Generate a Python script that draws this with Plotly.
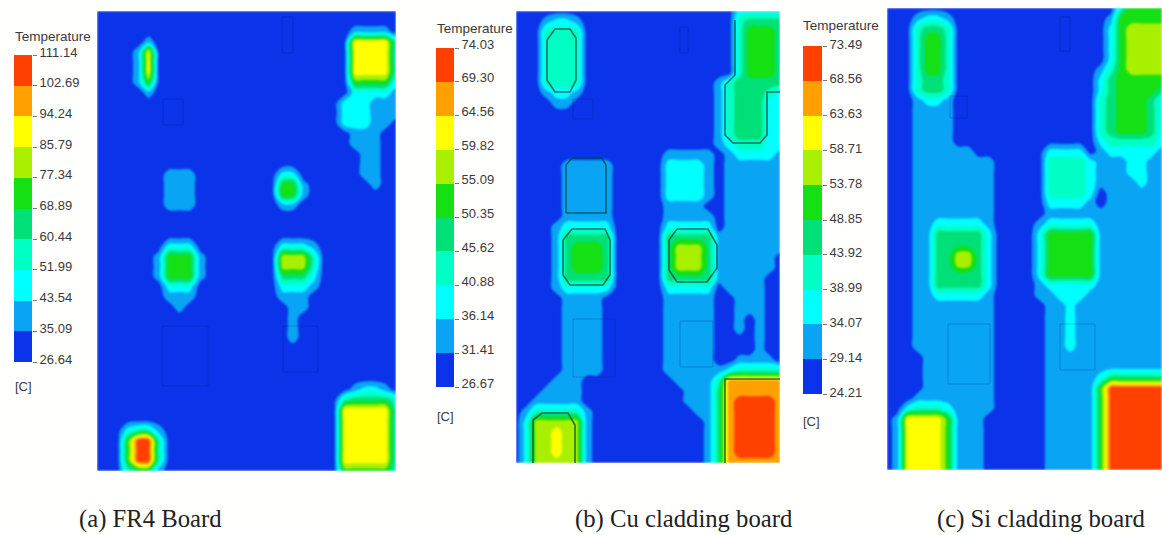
import numpy as np
import plotly.graph_objects as go

WIDTH, HEIGHT = 1162, 535

band_colors = ["#0a33ea", "#0aa4f5", "#00ffff", "#00ffc4", "#00e078",
               "#14e014", "#a8f000", "#ffff00", "#ffa000", "#ff4000"]

ticks_a = ["26.64", "35.09", "43.54", "51.99", "60.44", "68.89", "77.34", "85.79", "94.24", "102.69", "111.14"]
ticks_b = ["26.67", "31.41", "36.14", "40.88", "45.62", "50.35", "55.09", "59.82", "64.56", "69.30", "74.03"]
ticks_c = ["24.21", "29.14", "34.07", "38.99", "43.92", "48.85", "53.78", "58.71", "63.63", "68.56", "73.49"]

captions = ["(a) FR4 Board", "(b) Cu cladding board", "(c) Si cladding board"]

# Temperature band read per grid node (0 = coolest band ... 9 = hottest band)
bands_a = [
"0000000000 0000000000 0000000000",
"0000000000 0000000000 0000000000",
"0000000000 0000000000 0000 0 1111 0",
"00000 1 0000000000 00000000 0 7777 3",
"0000 1 7 0000000000 00000000 0 7777 3",
"0000 1 7 0000000000 00000000 0 7777 3",
"0000 1 7 0000000000 00000000 0 7777 3",
"0000 1 5 0000000000 00000000 0 5555 2",
"00000 1 0000000000 00000000 0 2222 1",
"000000 0000000000 00000000 222111",
"000000 0000000000 00000000 222111",
"000000 0000000000 00000000 222110",
"000000 0000000000 00000000 011100",
"000000 0000000000 00000000 011100",
"000000 0000000000 00000000 001100",
"000000 0000000000 00000000 001100",
"0000000 111 00000000 22 0 00000 11 00",
"0000000 111 00000000 55 1 00000 0 1 00",
"0000000 111 00000000 55 1 000000000",
"0000000 111 00000000 11 0 000000000",
"0000000000 0000000000 0000000000",
"0000000000 0000000000 0000000000",
"0000000000 0000000000 0000000000",
"0000000 222 00000000 222 1 00000000",
"000000 1 555 1 0000000 666 3 00000000",
"000000 1 555 1 0000000 666 3 00000000",
"000000 1 555 1 0000000 444 2 00000000",
"0000000 222 00000000 222 1 00000000",
"0000000 111 00000000 111 000000000",
"00000000 1 0000000000 11 000000000",
"0000000000 000000000 1 0000000000",
"0000000000 000000000 1 0000000000",
"0000000000 000000000 1 0000000000",
"0000000000 0000000000 0000000000",
"0000000000 0000000000 0000000000",
"0000000000 0000000000 0000000000",
"0000000000 0000000000 0000000000",
"0000000000 0000000000 0000 0 1221 0",
"0000000000 0000000000 000 0 3 4444 3",
"0000000000 0000000000 000 0 77777 3",
"0000000000 0000000000 000 0 77777 3",
"000 2 33 1 0000000000 000000 0 77777 3",
"000 5 99 3 0000000000 000000 0 77777 3",
"000 5 99 3 0000000000 000000 0 77777 3",
"000 5 99 3 0000000000 000000 0 77777 3",
"000 3 44 1 0000000000 000000 0 55555 3",
]

bands_b = [
"0000000000 0000000000 00 22222",
"000 1221 0000000000 00000 3 4444",
"000 3333 0000000000 00000 3 555 4",
"000 3333 0000000000 00000 3 555 4",
"000 3333 0000000000 00000 3 555 4",
"000 3333 0000000000 00000 3 555 4",
"000 3333 0000000000 00000 3 555 4",
"000 3333 0000000000 000 1 3 4 444 4",
"000 1221 0000000000 000 1 3 444 3 2",
"0000 11 0000000000 0000 1 3 444 2 2",
"0000000000 0000000000 1 3 444 2 2",
"0000000000 0000000000 1 3 444 2 2",
"0000000000 0000000000 1 3 444 2 2",
"0000000000 0000000000 1 2 333 2 2",
"0000000000 00000 11111 0 1 2222 1",
"00000 11111 00000 2222 1 0 111111",
"00000 11111 00000 2222 1 0 111111",
"00000 11111 00000 2222 1 0 111111",
"00000 11111 00000 2222 1 0 111111",
"00000 11111 00000 1111 0 0 111111",
"00000 11111 00000 11111 0 111111",
"0000 1 22222 00000 22222 0 111111",
"0000 1 44444 00000 44444 1 111111",
"0000 1 4 555 4 00000 4 666 4 1 111111",
"0000 1 4 555 4 00000 4 666 4 1 111110",
"0000 1 4 555 4 00000 4 666 4 1 111110",
"0000 1 44444 00000 44444 1 111100",
"0000 1 22222 00000 22222 0 1111 00",
"00000 1111 000000 11111 00 111 00",
"00000 1111 000000 11111 00 111 00",
"00000 1111 000000 11111 00 1 0 1 00",
"00000 1111 000000 11111 00 1 0 1 00",
"00000 1111 000000 11111 0000 1 00",
"00000 1111 000000 11111 0000 1 00",
"00000 1111 000000 11111 00 111 1 0",
"00000 1111 000000 111111 2 33333",
"0000 111 000000000 1111 3 888888",
"000 1111 0000000000 111 4 888888",
"00 11111 0000000000 111 4 8 9999 8",
"0 1 33333 1 0000000000 11 4 8 9999 8",
"0 2 66666 1 00000000000 1 4 8 9999 8",
"0 2 66 7 66 1 00000000000 1 4 8 9999 8",
"0 2 66 7 66 1 00000000000 1 4 8 9999 8",
"0 2 66 7 66 1 00000000000 1 4 8 9999 8",
"0 2 66666 1 00000000000 1 4 888888",
]

bands_c = [
"0000000000 0000000000 000 3 5555",
"000 1221 0000000000 00000 1 55555",
"000 3443 0000000000 00000 2 5 6666",
"000 3553 0000000000 00000 2 5 6666",
"000 3553 0000000000 00000 2 5 6666",
"000 3553 0000000000 00000 2 5 6666",
"000 3553 0000000000 0000 1 3 5 6666",
"000 3443 0000000000 0000 2 4 5 5555",
"000 3443 0000000000 0000 2 4 5555 4",
"000 1221 0000000000 0000 3 4 555 4 2",
"000 1111 0000000000 0000 3 4 555 4 2",
"000 1111 0000000000 0000 3 4 555 4 2",
"000 1111 0000000000 0000 3 4 555 4 2",
"000 1111 0000000000 0000 2 33333 2",
"000 111111 0000000 2222 0 1 22222 1",
"000 11111111 00000 3333 2 111 22 11",
"000 11111111 00000 3333 2 111 22 11",
"000 11111111 00000 3333 2 1111 2 11",
"000 11111111 00000 3333 2 0 111111",
"000 11111111 00000 2222 1 0 111111",
"000 11111111 00000 111111111111",
"000 11 22222 1 0000 1 22222 1111111",
"000 11 44444 2 0000 2 55555 1111111",
"000 11 44444 2 0000 2 55555 1111111",
"000 11 44 66 4 2 0000 2 55555 1111111",
"000 11 44 66 4 2 0000 2 55555 1111111",
"000 11 44444 2 0000 2 55555 1111111",
"000 11 44444 2 0000 1 22222 1111111",
"000 11 22222 1 0000 1 1 222 1 1111111",
"000 11111111 00000 11 2 111111111",
"000 11111111 00000 11 2 111111111",
"000 11111111 00000 11 2 111111111",
"000 11111111 00000 11 2 111111111",
"000 11111111 00000 11 2 111111111",
"0000 1111111 00000 111111111111",
"0000 1111111 00000 111111111111",
"0000 1111111 00000 11111 2 444444",
"0000 1111111 00000 11111 5 999999",
"000 11111111 00000 11111 5 999999",
"00 2 333 2 1111 00000 11111 5 999999",
"0 1 7777 5 111 000000 11111 5 999999",
"0 1 7777 5 111 000000 11111 5 999999",
"0 1 7777 5 111 000000 11111 5 999999",
"0 1 7777 5 111 000000 11111 5 999999",
"0 1 7777 5 111 000000 11111 5 999999",
"0 1 7777 5 111 000000 11111 5 999999",
]

# Faint component footprints: left, top, right, bottom
footprints_a = [[162, 326, 208, 386], [283, 326, 318, 372], [282, 17, 293, 53], [163, 99, 183, 125]]
footprints_b = [[573, 319, 615, 377], [680, 321, 713, 367], [680, 27, 688, 53], [573, 99, 593, 119]]
footprints_c = [[948, 324, 990, 384], [1060, 324, 1095, 370], [1060, 17, 1070, 51], [950, 96, 967, 118]]

# Dark contour traces around the hot parts of the Cu board
outline_b_x = [
    [547, 555, 570, 576, 576, 570, 555, 547, 547],
    [566, 566, 572, 602, 606, 606, 566],
    [563, 572, 605, 610, 610, 603, 570, 563, 563],
    [669, 677, 708, 717, 717, 707, 677, 669, 669],
    [533, 533, 542, 568, 575, 575],
    [725, 725, 780],
    [780, 767, 767, 760, 733, 725, 725, 735, 735],
]
outline_b_y = [
    [40, 29, 29, 38, 80, 92, 92, 80, 40],
    [213, 165, 158, 158, 165, 213, 213],
    [240, 229, 229, 240, 275, 285, 285, 275, 240],
    [240, 229, 229, 245, 268, 282, 282, 270, 240],
    [463, 420, 413, 413, 425, 463],
    [463, 379, 379],
    [92, 92, 135, 143, 143, 135, 85, 75, 20],
]

panels = [
    dict(bands=bands_a, ticks=ticks_a, box=(97, 396, 11, 471), bar=(14, 32, 55, 362), shift=3,
         foot=footprints_a, title=(15, 36), unit=(15, 386), cap=(79, 519)),
    dict(bands=bands_b, ticks=ticks_b, box=(516, 780, 11, 463), bar=(436, 454, 48, 387), shift=4,
         foot=footprints_b, title=(437, 29), unit=(437, 416), cap=(575, 519)),
    dict(bands=bands_c, ticks=ticks_c, box=(887, 1162, 8, 470), bar=(803, 822, 46, 394), shift=2,
         foot=footprints_c, title=(803, 25), unit=(803, 421), cap=(937, 519)),
]

n_bands = len(band_colors)
colorscale = []
for i, c in enumerate(band_colors):
    colorscale += [[i / n_bands, c], [(i + 1) / n_bands, c]]

fig = go.Figure()
layout = dict(
    width=WIDTH, height=HEIGHT, margin=dict(l=0, r=0, t=0, b=0, pad=0, autoexpand=False),
    paper_bgcolor="#fffffd", plot_bgcolor="rgba(0,0,0,0)", showlegend=False,
    font=dict(family="Liberation Sans", color="#3a3a3a", size=13),
)
annotations = []


def hdom(a, b):
    return [a / WIDTH, b / WIDTH]


def vdom(top, bottom):
    return [1 - bottom / HEIGHT, 1 - top / HEIGHT]


for k, p in enumerate(panels):
    levels = [float(t) for t in p["ticks"]]
    step = (levels[-1] - levels[0]) / n_bands
    left, right, top, bottom = p["box"]
    rows = [r.replace(" ", "") for r in p["bands"]]
    ncol = max(len(r) for r in rows)
    rows = [r.ljust(ncol, "0") for r in rows]
    z = [[levels[0] + (int(ch) + 0.5) * step for ch in r] for r in rows]
    xs = np.linspace(left, right, ncol)
    ys = np.linspace(top, bottom, len(rows))
    xa, ya = f"x{2 * k + 1}", f"y{2 * k + 1}"
    xb, yb = f"x{2 * k + 2}", f"y{2 * k + 2}"

    fig.add_trace(go.Contour(
        x=xs, y=ys, z=z, xaxis=xa, yaxis=ya, autocontour=False,
        contours=dict(start=levels[0] + step, end=levels[-1] - step, size=step, coloring="fill", showlines=False),
        line=dict(width=0, smoothing=1), colorscale=colorscale, zmin=levels[0], zmax=levels[-1],
        showscale=False, hoverinfo="skip",
    ))
    for x0, y0, x1, y1 in p["foot"]:
        fig.add_trace(go.Scatter(
            x=[x0, x1, x1, x0, x0], y=[y0, y0, y1, y1, y0], xaxis=xa, yaxis=ya, mode="lines",
            line=dict(color="rgba(0,20,90,0.22)", width=1), hoverinfo="skip",
        ))
    if k == 1:
        for ox, oy in zip(outline_b_x, outline_b_y):
            fig.add_trace(go.Scatter(
                x=ox, y=oy, xaxis=xa, yaxis=ya, mode="lines",
                line=dict(color="rgba(0,70,60,0.75)", width=1.6), hoverinfo="skip",
            ))

    # Colour key
    fig.add_trace(go.Heatmap(
        x=[0, 1], y=levels, z=[[levels[0] + (i + 0.5) * step] for i in range(n_bands)],
        xaxis=xb, yaxis=yb, colorscale=colorscale, zmin=levels[0], zmax=levels[-1],
        showscale=False, hoverinfo="skip",
    ))

    sx = "" if k == 0 else str(2 * k + 1)
    sb = str(2 * k + 2)
    layout["xaxis" + sx] = dict(domain=hdom(left, right), range=[left, right], visible=False, anchor=ya, fixedrange=True)
    layout["yaxis" + sx] = dict(domain=vdom(top, bottom), range=[bottom, top], visible=False, anchor=xa, fixedrange=True)
    b0, b1, bt, bb = p["bar"]
    layout["xaxis" + sb] = dict(domain=hdom(b0, b1), range=[0, 1], visible=False, anchor=yb, fixedrange=True)
    layout["yaxis" + sb] = dict(
        domain=vdom(bt, bb), range=[levels[0], levels[-1]], side="right", anchor=xb, fixedrange=True,
        tickmode="array", tickvals=levels, ticktext=p["ticks"], ticks="outside", ticklen=4,
        tickcolor="#777777", tickwidth=1, showgrid=False, zeroline=False, showline=False,
        ticklabelshift=-p["shift"], tickfont=dict(size=13, color="#3a3a3a", family="Liberation Sans"),
    )
    for text, (ax, ay), size, fam in [
        ("Temperature", p["title"], 13.5, "Liberation Sans"),
        ("[C]", p["unit"], 13, "Liberation Sans"),
        (captions[k], p["cap"], 24.7, "Liberation Serif"),
    ]:
        annotations.append(dict(
            x=ax / WIDTH, y=1 - ay / HEIGHT, xref="paper", yref="paper", text=text, showarrow=False,
            xanchor="left", yanchor="middle", xshift=0, borderpad=0, borderwidth=0,
            font=dict(size=size, family=fam, color="#222222" if fam.endswith("Serif") else "#3a3a3a"),
        ))

layout["annotations"] = annotations
fig.update_layout(**layout)
fig.write_html(
    "out.html", config=dict(displayModeBar=False),
    post_script="document.body.style.margin='0';"
                "document.querySelectorAll('.contourlayer').forEach(function(e){e.style.filter='blur(0.8px)';});",
)
